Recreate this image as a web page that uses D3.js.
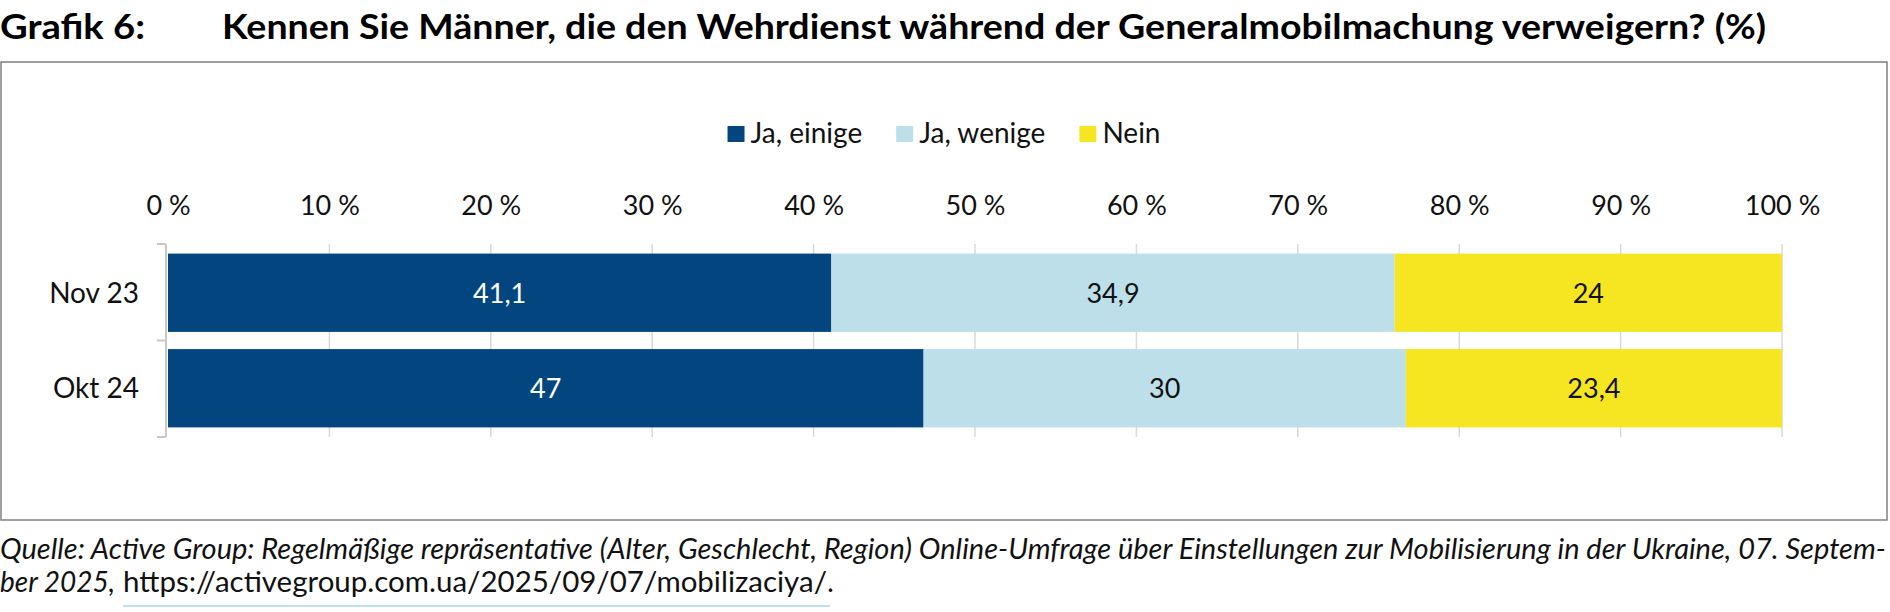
<!DOCTYPE html>
<html>
<head>
<meta charset="utf-8">
<script src="https://cdnjs.cloudflare.com/ajax/libs/d3/7.8.5/d3.min.js"></script>
<style>
    body { margin: 0; background: #fff; }
    text { font-family: Lato, "Noto Sans", sans-serif; }
</style>
</head>
<body>
<script>
    var categories = ['Nov 23', 'Okt 24'];
    var seriesNames = ['Ja, einige', 'Ja, wenige', 'Nein'];
    var jaEinige = [41.1, 47];
    var jaWenige = [34.9, 30];
    var nein = [24, 23.4];
    var tickValues = [0, 10, 20, 30, 40, 50, 60, 70, 80, 90, 100];
    var colors = ['#03467f', '#bcdfea', '#f6e621'];
    var labelColors = ['#fff', '#111', '#111'];

    var W = 1890, H = 612;
    var svg = d3.select('body').append('svg').attr('width', W).attr('height', H);

    // title
    svg.append('text').attr('x', 0).attr('y', 39)
       .attr('font-size', 35).attr('font-weight', 'bold')
       .attr('textLength', 145).attr('lengthAdjust', 'spacingAndGlyphs')
       .text('Grafik 6:');
    svg.append('text').attr('x', 222).attr('y', 39)
       .attr('font-size', 35).attr('font-weight', 'bold')
       .attr('textLength', 1544).attr('lengthAdjust', 'spacingAndGlyphs')
       .text('Kennen Sie Männer, die den Wehrdienst während der Generalmobilmachung verweigern? (%)');

    // frame
    svg.append('rect').attr('x', 1).attr('y', 62).attr('width', 1886).attr('height', 458)
       .attr('fill', 'none').attr('stroke', '#808080').attr('stroke-width', 1.5);

    var rows = categories.map(function (c, i) {
        return {cat: c, 'Ja, einige': jaEinige[i], 'Ja, wenige': jaWenige[i], 'Nein': nein[i]};
    });
    var stacked = d3.stack().keys(seriesNames).offset(d3.stackOffsetExpand)(rows);

    var x = d3.scaleLinear().domain([0, 100]).range([168, 1782]);
    var y = d3.scaleBand().domain(categories).range([245, 436]).paddingInner(0.18).paddingOuter(0.09);

    // gridlines
    svg.append('g').selectAll('line').data(tickValues.slice(1)).enter().append('line')
       .attr('x1', function (d) { return x(d); }).attr('x2', function (d) { return x(d); })
       .attr('y1', 244).attr('y2', 437)
       .attr('stroke', '#d9d9d9').attr('stroke-width', 1.5);

    // top axis labels
    var axis = svg.append('g').attr('transform', 'translate(0,215)')
       .call(d3.axisTop(x).tickValues(tickValues).tickSize(0).tickPadding(0)
             .tickFormat(function (d) { return d + ' %'; }));
    axis.select('.domain').remove();
    axis.selectAll('text').attr('font-size', 27).attr('fill', '#111')
        .attr('dy', 0).attr('font-family', 'Lato');

    // bars
    var layer = svg.append('g').selectAll('g').data(stacked).enter().append('g')
       .attr('fill', function (d, i) { return colors[i]; });
    layer.selectAll('rect').data(function (d) { return d; }).enter().append('rect')
       .attr('x', function (d) { return x(d[0] * 100); })
       .attr('width', function (d) { return x(d[1] * 100) - x(d[0] * 100); })
       .attr('y', function (d) { return y(d.data.cat); })
       .attr('height', y.bandwidth());

    // value labels
    stacked.forEach(function (s, si) {
        svg.append('g').selectAll('text').data(s).enter().append('text')
           .attr('x', function (d) { return (x(d[0] * 100) + x(d[1] * 100)) / 2; })
           .attr('y', function (d) { return y(d.data.cat) + y.bandwidth() / 2 + 10; })
           .attr('text-anchor', 'middle').attr('font-size', 27)
           .attr('fill', labelColors[si])
           .text(function (d) { return String(d.data[s.key]).replace('.', ','); });
    });

    // category bracket
    var bx = 166;
    var brTicks = [244, (y(categories[0]) + y.bandwidth() + y(categories[1])) / 2, 437];
    svg.append('line').attr('x1', bx).attr('x2', bx).attr('y1', brTicks[0]).attr('y2', brTicks[2])
       .attr('stroke', '#c8c8c8').attr('stroke-width', 2);
    svg.append('g').selectAll('line').data(brTicks).enter().append('line')
       .attr('x1', 157).attr('x2', bx).attr('y1', function (d) { return d; }).attr('y2', function (d) { return d; })
       .attr('stroke', '#c8c8c8').attr('stroke-width', 2);

    svg.append('g').selectAll('text').data(categories).enter().append('text')
       .attr('x', 139).attr('y', function (d) { return y(d) + y.bandwidth() / 2 + 10; })
       .attr('text-anchor', 'end').attr('font-size', 28).attr('fill', '#111')
       .text(function (d) { return d; });

    // legend, centred in the frame
    var legend = svg.append('g');
    var lx = 0;
    seriesNames.forEach(function (name, i) {
        var g = legend.append('g').attr('transform', 'translate(' + lx + ',0)');
        g.append('rect').attr('x', 0).attr('y', -17).attr('width', 17).attr('height', 16).attr('fill', colors[i]);
        var t = g.append('text').attr('x', 23).attr('y', 0).attr('font-size', 28).attr('fill', '#111').text(name);
        lx += 23 + t.node().getComputedTextLength() + 34;
    });
    lx -= 34;
    legend.attr('transform', 'translate(' + (944 - lx / 2) + ',143)');

    // source
    svg.append('text').attr('x', 0).attr('y', 559)
       .attr('font-size', 28).attr('font-style', 'italic').attr('fill', '#111')
       .attr('textLength', 1886).attr('lengthAdjust', 'spacingAndGlyphs')
       .text('Quelle: Active Group: Regelmäßige repräsentative (Alter, Geschlecht, Region) Online-Umfrage über Einstellungen zur Mobilisierung in der Ukraine, 07. Septem-');
    svg.append('text').attr('x', 0).attr('y', 592)
       .attr('font-size', 28).attr('font-style', 'italic').attr('fill', '#111')
       .text('ber 2025,');
    svg.append('text').attr('x', 123).attr('y', 592)
       .attr('font-size', 28).attr('fill', '#111')
       .attr('textLength', 704).attr('lengthAdjust', 'spacingAndGlyphs')
       .text('https://activegroup.com.ua/2025/09/07/mobilizaciya/');
    svg.append('text').attr('x', 828).attr('y', 592)
       .attr('font-size', 28).attr('font-style', 'italic').attr('fill', '#111')
       .text('.');
    svg.append('line').attr('x1', 123).attr('x2', 830).attr('y1', 606).attr('y2', 606)
       .attr('stroke', '#a8d4ea').attr('stroke-width', 1.5);
</script>
</body>
</html>
